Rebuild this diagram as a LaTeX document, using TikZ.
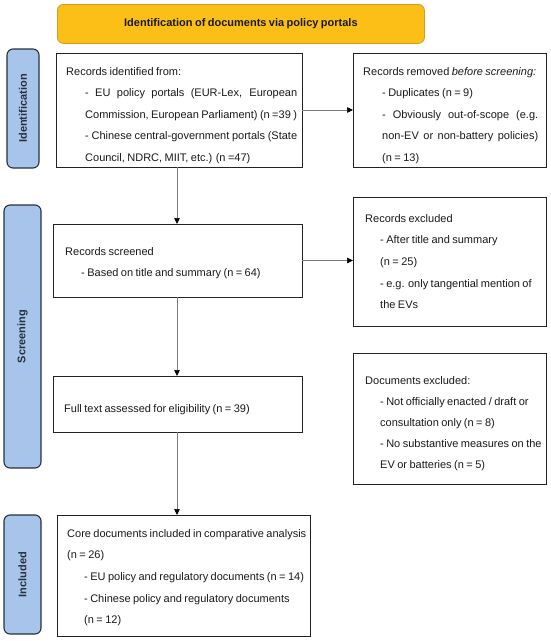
\documentclass[tikz,border=0pt]{standalone}
\usepackage{fontspec}
\setmainfont{Liberation Sans}[WordSpace=0.8]
\usetikzlibrary{arrows.meta}
\definecolor{bannerfill}{HTML}{FBBF17}
\definecolor{bannerline}{HTML}{D49A22}
\definecolor{barfill}{HTML}{A7C5EA}
\definecolor{barline}{HTML}{26313D}
\definecolor{boxline}{HTML}{222222}
\definecolor{arrline}{HTML}{7A7A7A}
\definecolor{txt}{HTML}{1A1A1A}
\newcommand\nohyph{\hyphenpenalty=10000\relax\exhyphenpenalty=10000\relax}
\newcommand\itm[1]{\par\hangindent=#1\relax\hangafter=0\relax}
\begin{document}
\begin{tikzpicture}[x=1pt,y=-1pt,
  box/.style={draw=boxline, line width=0.8pt, fill=white, anchor=north west, inner sep=0pt, outer sep=0pt},
  bar/.style={draw=barline, line width=1.1pt, fill=barfill, rounded corners=6pt, anchor=north west, inner sep=0pt, outer sep=0pt},
  bartext/.style={rotate=90, inner sep=0pt, font=\fontsize{11}{12}\selectfont\bfseries, text=barline},
  txtblock/.style={anchor=base west, inner sep=0pt, align=justify, text=txt, font=\fontsize{11}{21.7}\selectfont\nohyph},
  arr/.style={draw=arrline, line width=0.7pt, -{Triangle[length=6pt,width=5.5pt,color=black]}}
]
\useasboundingbox (0,0) rectangle (550,641);
% banner
\node[draw=bannerline, line width=0.8pt, fill=bannerfill, rounded corners=6pt, anchor=north west,
      minimum width=367pt, minimum height=39pt, inner sep=0pt] (banner) at (57,4) {};
\node[font=\fontsize{11}{12}\selectfont\bfseries, text=txt, inner sep=0pt] (bannertext) at (banner.center)
  {Identification of documents via policy portals};
% side bars
\node[bar, minimum width=32pt, minimum height=119pt] (idbar) at (7,49) {};
\node[bartext] (idtext) at (idbar.center) {Identification};
\node[bar, minimum width=37pt, minimum height=263pt] (scbar) at (4,205) {};
\node[bartext] (sctext) at (scbar.center) {Screening};
\node[bar, minimum width=37pt, minimum height=119pt] (inbar) at (4,515) {};
\node[bartext] (intext) at (inbar.center) {Included};
% boxes
\node[box, minimum width=246pt, minimum height=114pt] (box1) at (56,53) {};
\node[box, minimum width=193pt, minimum height=114pt] (box2) at (353,53) {};
\node[box, minimum width=249pt, minimum height=73pt] (box3) at (53,224) {};
\node[box, minimum width=193pt, minimum height=129pt] (box4) at (353,197) {};
\node[box, minimum width=249pt, minimum height=56pt] (box5) at (53,376) {};
\node[box, minimum width=193pt, minimum height=131pt] (box6) at (353,353) {};
\node[box, minimum width=253pt, minimum height=121pt] (box7) at (57,515) {};
% texts
\node[txtblock, text width=231pt, font=\fontsize{11}{21.4}\selectfont\nohyph] (t1) at (66,75.5)
  {Records identified from:\itm{19pt}- EU policy portals (EUR-Lex, European\linebreak Commission, European Parliament) (n =39 )\itm{19pt}- Chinese central-government portals (State\linebreak Council, NDRC, MIIT, etc.) (n =47)\par};
\node[txtblock, text width=175pt, font=\fontsize{11}{21.4}\selectfont\nohyph] (t2) at (363,75.5)
  {Records removed \textit{before screening:}\itm{19pt}- Duplicates (n = 9)\itm{19pt}- Obviously out-of-scope (e.g.\linebreak non-EV or non-battery policies)\linebreak (n = 13)\par};
\node[txtblock, text width=232pt] (t3) at (65,255)
  {Records screened\itm{16pt}- Based on title and summary (n = 64)\par};
\node[txtblock, text width=180pt] (t4) at (365,222)
  {Records excluded\itm{15pt}- After title and summary\newline (n = 25)\itm{15pt}- e.g. only tangential mention of\newline the EVs\par};
\node[txtblock, text width=232pt] (t5) at (64,412)
  {Full text assessed for eligibility (n = 39)};
\node[txtblock, text width=182pt, font=\fontsize{11}{21}\selectfont\nohyph] (t6) at (365,384)
  {Documents excluded:\itm{15pt}- Not officially enacted / draft or\newline consultation only (n = 8)\itm{15pt}- No substantive measures on the\newline EV or batteries (n = 5)\par};
\node[txtblock, text width=244pt] (t7) at (67,537)
  {Core documents included in comparative analysis\newline (n = 26)\itm{17pt}- EU policy and regulatory documents (n = 14)\itm{17pt}- Chinese policy and regulatory documents\newline (n = 12)\par};
% connectors
\coordinate (col) at (177,0);
\draw[arr] (box1.south -| col) -- (box3.north -| col);
\draw[arr] (box3.south -| col) -- (box5.north -| col);
\draw[arr] (box5.south -| col) -- (box7.north -| col);
\draw[arr] (box1.east) -- (box2.west);
\draw[arr] (box3.east) -- (box4.west |- box3.east);
\end{tikzpicture}
\end{document}
